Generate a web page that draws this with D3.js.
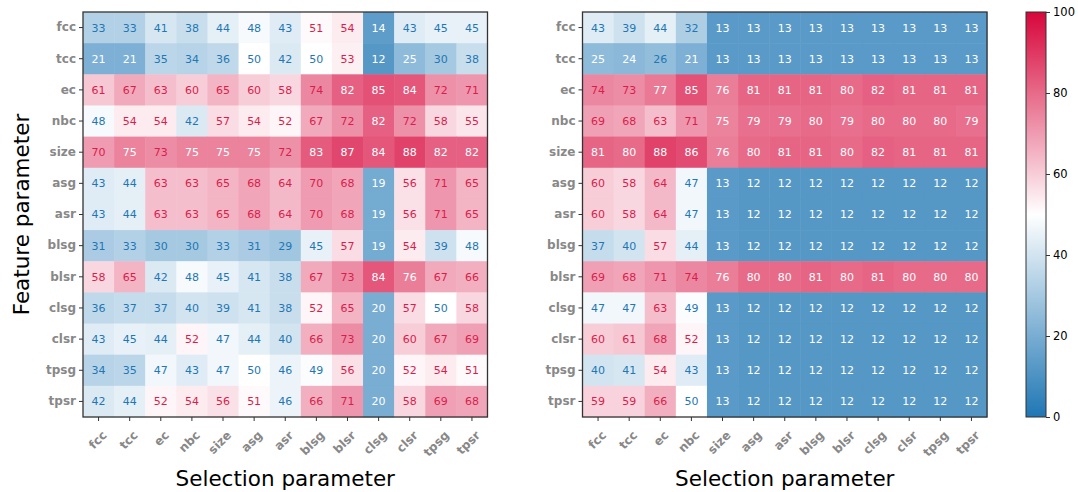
<!DOCTYPE html>
<html lang="en">
<head>
    <meta charset="UTF-8">
    <title>Feature vs selection parameter heatmaps</title>
    <script src="https://d3js.org/d3.v7.min.js"></script>
    <style>
        body{
            margin: 0;
            background: #fff;
        }
        svg text{
            font-family: "DejaVu Sans", sans-serif;
        }
        .tick-lab text{
            fill: #888;
            font-weight: bold;
            font-size: 12px;
        }
        .cb text{
            fill: #000;
            font-size: 11.5px;
        }
    </style>
</head>
<body>
<svg width="1078" height="492"></svg>
<script>
    // parameter names (rows = feature parameter, columns = selection parameter)
    const params = ["fcc","tcc","ec","nbc","size","asg","asr","blsg","blsr","clsg","clsr","tpsg","tpsr"];

    // left panel values
    const leftValues = [
        [33,33,41,38,44,48,43,51,54,14,43,45,45],
        [21,21,35,34,36,50,42,50,53,12,25,30,38],
        [61,67,63,60,65,60,58,74,82,85,84,72,71],
        [48,54,54,42,57,54,52,67,72,82,72,58,55],
        [70,75,73,75,75,75,72,83,87,84,88,82,82],
        [43,44,63,63,65,68,64,70,68,19,56,71,65],
        [43,44,63,63,65,68,64,70,68,19,56,71,65],
        [31,33,30,30,33,31,29,45,57,19,54,39,48],
        [58,65,42,48,45,41,38,67,73,84,76,67,66],
        [36,37,37,40,39,41,38,52,65,20,57,50,58],
        [43,45,44,52,47,44,40,66,73,20,60,67,69],
        [34,35,47,43,47,50,46,49,56,20,52,54,51],
        [42,44,52,54,56,51,46,66,71,20,58,69,68]
    ];

    // right panel values
    const rightValues = [
        [43,39,44,32,13,13,13,13,13,13,13,13,13],
        [25,24,26,21,13,13,13,13,13,13,13,13,13],
        [74,73,77,85,76,81,81,81,80,82,81,81,81],
        [69,68,63,71,75,79,79,80,79,80,80,80,79],
        [81,80,88,86,76,80,81,81,80,82,81,81,81],
        [60,58,64,47,13,12,12,12,12,12,12,12,12],
        [60,58,64,47,13,12,12,12,12,12,12,12,12],
        [37,40,57,44,13,12,12,12,12,12,12,12,12],
        [69,68,71,74,76,80,80,81,80,81,80,80,80],
        [47,47,63,49,13,12,12,12,12,12,12,12,12],
        [60,61,68,52,13,12,12,12,12,12,12,12,12],
        [40,41,54,43,13,12,12,12,12,12,12,12,12],
        [59,59,66,50,13,12,12,12,12,12,12,12,12]
    ];

    const cbTicks = [0,20,40,60,80,100];

    const svg = d3.select("svg");

    // blue - white - crimson colour map over 0..100
    const color = d3.scaleLinear()
        .domain([0,50,100])
        .range(["#1f77b4","#ffffff","#d7063b"])
        .interpolate(d3.interpolateRgb);

    function textColor(v){
        if(v >= 75 || v <= 25) return "#ffffff";
        if(v > 50) return "#d91e4c";
        return "#1f77b4";
    }

    const plotTop = 12, plotBottom = 417;

    function heatmap(values, x0, x1){
        const g = svg.append("g");
        const x = d3.scaleBand().domain(params).range([x0,x1]);
        const y = d3.scaleBand().domain(params).range([plotTop,plotBottom]);

        const cells = [];
        values.forEach((row,i)=> row.forEach((v,j)=> cells.push({r:params[i], c:params[j], v:v})));

        g.selectAll("rect.cell")
            .data(cells)
            .enter()
            .append("rect")
            .attr("class","cell")
            .attr("x", d=>x(d.c))
            .attr("y", d=>y(d.r))
            .attr("width", x.bandwidth()+0.5)
            .attr("height", y.bandwidth()+0.5)
            .attr("fill", d=>color(d.v));

        g.selectAll("text.ann")
            .data(cells)
            .enter()
            .append("text")
            .attr("class","ann")
            .attr("x", d=>x(d.c)+x.bandwidth()/2)
            .attr("y", d=>y(d.r)+y.bandwidth()/2)
            .attr("dy","0.36em")
            .attr("text-anchor","middle")
            .attr("font-size","11px")
            .attr("fill", d=>textColor(d.v))
            .text(d=>d.v);

        // frame
        g.append("rect")
            .attr("x",x0).attr("y",plotTop)
            .attr("width",x1-x0).attr("height",plotBottom-plotTop)
            .attr("fill","none")
            .attr("stroke","#333")
            .attr("stroke-width",1.3);

        // y axis
        const ya = g.append("g")
            .attr("class","tick-lab")
            .attr("transform",`translate(${x0},0)`)
            .call(d3.axisLeft(y).tickSize(4).tickPadding(3));
        ya.select(".domain").remove();
        ya.selectAll("line").attr("stroke","#333");

        // x axis
        const xa = g.append("g")
            .attr("class","tick-lab")
            .attr("transform",`translate(0,${plotBottom})`)
            .call(d3.axisBottom(x).tickSize(4));
        xa.select(".domain").remove();
        xa.selectAll("line").attr("stroke","#333");
        xa.selectAll("text")
            .attr("text-anchor","end")
            .attr("x",0).attr("y",0).attr("dy","0.35em")
            .attr("transform","translate(6,16) rotate(-45)");

        // axis title
        svg.append("text")
            .attr("x",(x0+x1)/2)
            .attr("y",486)
            .attr("text-anchor","middle")
            .attr("font-size","21.5px")
            .attr("fill","#000")
            .text("Selection parameter");
    }

    heatmap(leftValues, 83, 487.5);
    heatmap(rightValues, 582.5, 987);

    svg.append("text")
        .attr("transform","translate(29,214.5) rotate(-90)")
        .attr("text-anchor","middle")
        .attr("font-size","21.5px")
        .attr("fill","#000")
        .text("Feature parameter");

    // colour bar
    const cbX = 1026, cbW = 20;
    const defs = svg.append("defs");
    const grad = defs.append("linearGradient")
        .attr("id","cbgrad")
        .attr("x1","0").attr("y1","1").attr("x2","0").attr("y2","0");
    d3.range(0,101,10).forEach(v=>{
        grad.append("stop").attr("offset", v/100).attr("stop-color", color(v));
    });
    svg.append("rect")
        .attr("x",cbX).attr("y",plotTop)
        .attr("width",cbW).attr("height",plotBottom-plotTop)
        .attr("fill","url(#cbgrad)")
        .attr("stroke","#333")
        .attr("stroke-width",1);

    const cbScale = d3.scaleLinear().domain([0,100]).range([plotBottom,plotTop]);
    const cba = svg.append("g")
        .attr("class","cb")
        .attr("transform",`translate(${cbX+cbW},0)`)
        .call(d3.axisRight(cbScale).tickValues(cbTicks).tickSize(4).tickPadding(3));
    cba.select(".domain").remove();
    cba.selectAll("line").attr("stroke","#333");
</script>
</body>
</html>
